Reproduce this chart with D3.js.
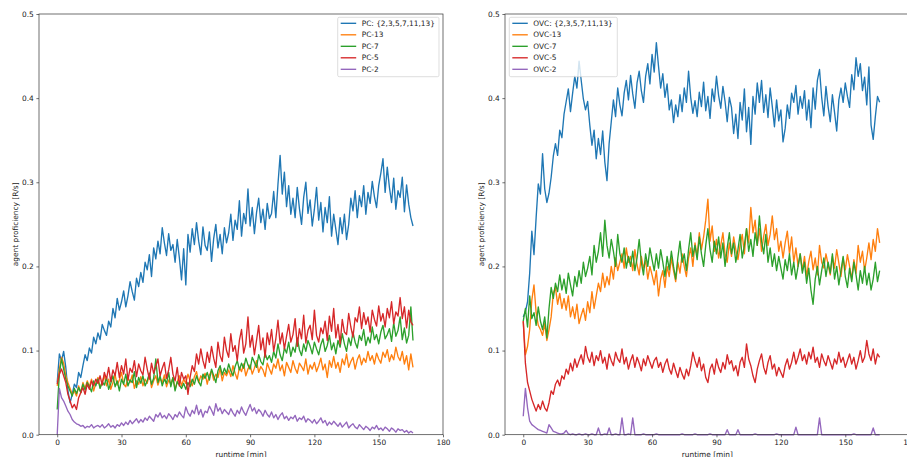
<!DOCTYPE html>
<html>
<head>
<meta charset="utf-8">
<title>Agent proficiency</title>
<style>
  body { margin: 0; background: #fff; }
  text { font-family: "DejaVu Sans", sans-serif; font-size: 7.4px; fill: #222; }
  .line { fill: none; stroke-width: 1.35; stroke-linejoin: round; }
  .axis path, .axis line { stroke: #333; stroke-width: 0.7; }
</style>
<script src="https://d3js.org/d3.v7.min.js"></script>
</head>
<body>
<div id="chart"></div>
<script>
// samples are one minute apart, values in milli R/s (0.001 R/s)
var dt = 1;
var xTicks = [0, 30, 60, 90, 120, 150, 180];
var yTicks = [0, 0.1, 0.2, 0.3, 0.4, 0.5];

var pcLabels = ["PC: {2,3,5,7,11,13}", "PC-13", "PC-7", "PC-5", "PC-2"];
var ovcLabels = ["OVC: {2,3,5,7,11,13}", "OVC-13", "OVC-7", "OVC-5", "OVC-2"];
var colors = ["#1f77b4", "#ff7f0e", "#2ca02c", "#d62728", "#9467bd"];

var pcAll = [62,96,88,99,80,52,38,48,60,56, 74,68,82,95,88,103,97,116,108,121,
  113,131,124,118,135,128,150,139,162,148, 158,171,152,165,182,170,160,186,176,193,
  181,205,196,214,188,222,209,230,215,246, 228,213,239,219,226,205,232,210,184,221,
  178,238,217,245,226,252,230,214,247,225, 219,241,206,233,250,222,238,215,246,228,
  240,262,231,255,244,278,236,263,251,292, 248,270,239,264,281,252,268,244,275,257,
  263,289,258,298,332,286,312,271,296,262, 281,258,294,269,250,282,300,263,279,248,
  268,294,255,276,241,270,252,283,236,262, 244,226,258,239,262,232,250,281,266,290,
  258,284,271,296,262,288,275,301,283,270, 296,311,328,288,318,294,276,305,268,290,
  282,306,265,297,274,258,248];
var pc13 = [58,78,92,85,70,62,55,48,52,46, 58,50,62,55,64,57,66,52,61,68,
  56,63,70,58,66,54,62,71,59,65, 74,60,57,68,62,71,55,64,60,69,
  58,66,61,73,56,64,70,59,67,62, 71,57,65,60,68,54,63,70,58,66,
  61,72,64,58,69,75,62,70,66,73, 60,71,76,65,72,68,79,64,74,70,
  77,69,82,73,66,80,75,84,70,78, 83,72,79,88,74,81,77,69,85,78,
  72,84,79,90,76,83,70,86,80,74, 88,79,73,85,81,76,90,72,83,78,
  86,75,82,91,77,84,68,88,80,93, 79,86,74,90,83,96,80,87,92,78,
  89,95,83,91,86,99,88,94,84,97, 90,85,98,92,101,87,95,89,104,93,
  88,99,84,94,77,96,80];
var pc7 = [30,72,90,78,66,58,52,46,55,49, 56,50,60,53,62,57,51,64,58,66,
  55,63,59,68,54,61,70,57,64,52, 66,60,72,58,65,62,75,56,68,61,
  70,58,64,73,60,67,90,62,70,58, 66,61,74,57,68,52,63,59,55,61,
  54,62,57,66,60,70,63,58,72,67, 74,65,78,70,62,76,82,71,79,73,
  84,76,70,81,88,77,85,79,91,83, 78,92,86,80,95,87,83,97,89,94,
  86,99,91,108,95,88,103,97,110,93, 104,98,115,101,94,108,99,112,105,96,
  110,102,95,107,114,99,106,118,101,109, 96,112,104,120,108,99,115,106,122,110,
  103,118,112,125,106,116,109,128,113,119, 108,122,130,114,119,126,111,133,117,124,
  140,113,127,109,118,152,112];
var pc5 = [60,72,78,70,62,48,40,32,36,30, 44,50,56,48,60,54,64,58,66,61,
  70,59,74,66,80,63,77,70,86,68, 82,72,90,65,79,74,88,69,84,76,
  71,92,78,66,85,73,81,90,70,79, 86,67,77,92,72,64,80,58,74,66,
  70,48,68,82,75,96,84,102,88,79, 98,86,105,91,80,110,94,87,116,100,
  92,120,99,106,88,112,125,97,108,140, 104,118,95,112,130,101,115,92,121,107,
  125,99,114,136,108,121,102,117,131,110, 119,138,105,126,114,142,109,124,130,113,
  148,118,110,127,120,135,112,141,123,150, 115,131,108,137,122,119,144,128,116,139,
  134,152,126,145,131,140,122,148,137,129, 153,135,144,128,150,139,158,132,146,141,
  163,138,152,127,148,134,130];
var pc2 = [0,55,44,40,34,28,24,18,15,13, 12,10,11,8,10,9,12,8,10,11,
  9,12,8,10,13,9,11,8,12,10, 14,11,15,12,17,13,16,19,14,18,
  15,20,17,22,19,16,24,21,26,20, 23,19,25,22,18,24,21,27,23,20,
  33,26,22,29,25,35,24,30,21,28, 26,34,29,23,37,28,32,25,30,27,
  24,31,26,22,29,25,33,27,23,30, 36,28,32,25,30,27,22,29,24,21,
  27,20,24,18,23,26,19,22,17,21, 19,23,16,20,18,22,15,19,17,14,
  18,13,16,20,14,17,11,15,12,16, 13,10,14,9,12,15,8,11,13,9,
  7,12,9,6,10,8,5,9,7,11, 6,8,5,9,7,4,8,6,3,7,
  5,6,3,5,2,4,2];

var ovcAll = [140,146,158,192,242,214,258,298,286,334, 292,276,287,306,331,346,332,362,353,381,
  396,411,384,406,426,412,444,421,399,386, 396,368,344,362,328,352,333,361,324,302,
  346,372,398,378,412,392,379,406,421,398, 427,405,388,418,432,409,395,426,441,417,
  452,431,466,438,412,429,401,417,386,398, 371,392,378,404,384,412,395,432,401,382,
  397,378,407,390,419,385,402,376,411,396, 426,403,388,414,396,372,401,389,358,381,
  352,395,374,411,360,389,345,402,381,418, 395,421,383,404,377,412,390,366,398,373,
  386,348,364,392,376,406,395,415,381,402, 388,409,374,398,365,412,387,421,434,401,
  379,414,390,372,404,383,361,398,412,395, 418,402,389,428,410,448,426,441,409,425,
  392,437,368,351,378,402,395];
var ovc13 = [135,95,105,125,160,178,145,130,125,118, 132,112,125,140,168,175,155,168,150,162,
  148,165,140,152,138,155,132,142,150,136, 158,145,170,150,165,180,170,192,175,188,
  178,200,185,210,195,205,215,198,222,205, 212,195,220,202,190,212,198,207,185,200,
  190,178,195,165,185,195,175,200,188,210, 195,182,205,192,215,200,188,210,222,200,
  228,212,240,220,235,255,280,230,248,218, 232,210,225,240,215,205,228,212,235,220,
  208,225,238,215,245,228,270,240,255,225, 245,218,236,250,225,238,260,232,245,218,
  230,210,228,242,215,235,205,222,200,215, 195,212,188,206,218,196,210,190,225,205,
  198,215,202,190,212,198,220,204,188,210, 196,214,200,185,208,192,225,205,218,195,
  210,228,208,232,218,245,228];
var ovc7 = [135,150,128,165,138,145,130,152,135,125, 140,115,150,175,162,180,170,190,172,185,
  168,192,178,165,188,176,195,180,205,188, 198,212,190,225,205,218,240,212,255,225,
  210,232,218,200,238,215,205,222,198,212, 200,218,195,210,232,205,190,215,200,222,
  208,195,215,198,220,205,188,212,196,218, 200,185,210,230,205,215,195,220,240,212,
  225,208,235,215,200,225,245,220,205,230, 215,235,210,228,200,222,240,215,228,205,
  220,238,210,225,245,218,232,212,240,225, 260,230,215,238,205,222,200,215,195,212,
  198,185,208,195,215,190,205,185,200,215, 192,205,180,198,172,155,185,200,178,195,
  210,188,205,192,215,185,200,178,195,212, 188,175,198,182,205,190,172,195,180,200,
  178,192,172,185,205,182,195];
var ovc5 = [135,85,62,52,42,35,28,36,30,40, 32,28,38,52,48,60,65,58,70,66,
  78,72,85,76,90,80,88,95,84,105, 92,86,98,82,94,88,100,85,92,78,
  96,88,82,98,90,86,102,84,92,78, 88,95,80,92,85,76,90,82,94,86,
  79,88,92,80,86,74,84,90,78,72, 85,76,68,80,72,66,78,70,82,98,
  88,80,92,76,84,68,62,78,84,72, 90,80,74,86,78,95,84,88,76,82,
  70,86,92,80,108,90,82,70,62,78, 88,96,80,72,86,94,78,84,70,80,
  74,68,82,90,78,86,98,84,92,102, 88,95,84,98,90,104,86,92,80,96,
  88,82,94,86,78,90,84,98,86,92, 80,88,96,84,92,78,88,100,86,92,
  112,96,88,102,84,96,92];
var ovc2 = [22,55,32,16,12,10,8,6,5,4, 3,2,12,8,4,3,2,1,1,2,
  5,1,0,1,0,0,1,0,0,1, 0,0,1,0,0,8,0,0,1,0,
  8,0,0,1,0,0,20,0,0,1, 0,20,0,0,0,0,1,0,0,0,
  0,0,1,0,0,0,0,0,0,0, 0,0,0,0,1,0,0,0,0,0,
  1,0,0,0,0,0,0,1,0,0, 0,0,0,0,0,6,0,0,0,0,
  6,0,0,0,0,0,0,0,1,0, 0,0,0,0,0,0,0,0,1,0,
  0,0,0,0,0,0,0,9,0,0, 0,0,0,0,0,0,0,0,20,0,
  0,0,0,0,0,0,0,0,0,0, 0,0,0,0,1,0,0,0,0,0,
  0,0,0,8,0,0,0];

var W = 907, H = 457;
var svg = d3.select("#chart").append("svg")
  .attr("width", W)
  .attr("height", H);

function drawPanel(opts) {
  var x = d3.scaleLinear().domain([-8.5, 180]).range([opts.left, opts.right]);
  var y = d3.scaleLinear().domain([0, 0.5]).range([434.7, 14]);
  var g = svg.append("g");

  var line = d3.line()
    .x(function(d, i) { return x(i * dt); })
    .y(function(d) { return y(d / 1000); });

  opts.series.forEach(function(s, k) {
    g.append("path")
      .datum(s)
      .attr("class", "line")
      .attr("stroke", colors[k])
      .attr("d", line);
  });

  // frame
  g.append("rect")
    .attr("x", opts.left).attr("y", 14)
    .attr("width", opts.right - opts.left).attr("height", 434.7 - 14)
    .attr("fill", "none").attr("stroke", "#333").attr("stroke-width", 0.7);

  var xAxis = d3.axisBottom(x).tickValues(xTicks).tickSize(2.6).tickPadding(2.6)
    .tickFormat(d3.format("d"));
  g.append("g").attr("class", "axis")
    .attr("transform", "translate(0,434.7)")
    .call(xAxis)
    .call(function(a) { a.select(".domain").remove(); });

  var yAxis = d3.axisLeft(y).tickValues(yTicks).tickSize(2.6).tickPadding(2.6)
    .tickFormat(d3.format(".1f"));
  g.append("g").attr("class", "axis")
    .attr("transform", "translate(" + opts.left + ",0)")
    .call(yAxis)
    .call(function(a) { a.select(".domain").remove(); });

  g.selectAll(".axis text").attr("fill", "#222").style("font-size", "7.4px")
    .style("font-family", "DejaVu Sans");

  g.append("text")
    .attr("x", (opts.left + opts.right) / 2)
    .attr("y", 456.5)
    .attr("text-anchor", "middle")
    .text("runtime [min]");

  g.append("text")
    .attr("transform", "translate(" + (opts.left - 21) + "," + ((14 + 434.7) / 2) + ") rotate(-90)")
    .attr("text-anchor", "middle")
    .text("agent proficiency [R/s]");

  // legend
  var lg = g.append("g").attr("transform", "translate(" + opts.legendX + ",17.3)");
  lg.append("rect")
    .attr("width", opts.legendW).attr("height", 59.4)
    .attr("rx", 1.5)
    .attr("fill", "#fff").attr("fill-opacity", 0.8)
    .attr("stroke", "#d0d0d0").attr("stroke-width", 0.7);
  opts.labels.forEach(function(lab, k) {
    var yy = 6 + k * 11.5;
    lg.append("line")
      .attr("x1", 3).attr("x2", 18.5)
      .attr("y1", yy).attr("y2", yy)
      .attr("stroke", colors[k]).attr("stroke-width", 1.35);
    lg.append("text")
      .attr("x", 24).attr("y", yy + 2.7)
      .text(lab);
  });
}

drawPanel({
  left: 39, right: 443,
  series: [pcAll, pc13, pc7, pc5, pc2],
  labels: pcLabels,
  legendX: 337.7, legendW: 101.3
});

drawPanel({
  left: 505, right: 909.7,
  series: [ovcAll, ovc13, ovc7, ovc5, ovc2],
  labels: ovcLabels,
  legendX: 509.3, legendW: 108
});
</script>
</body>
</html>
